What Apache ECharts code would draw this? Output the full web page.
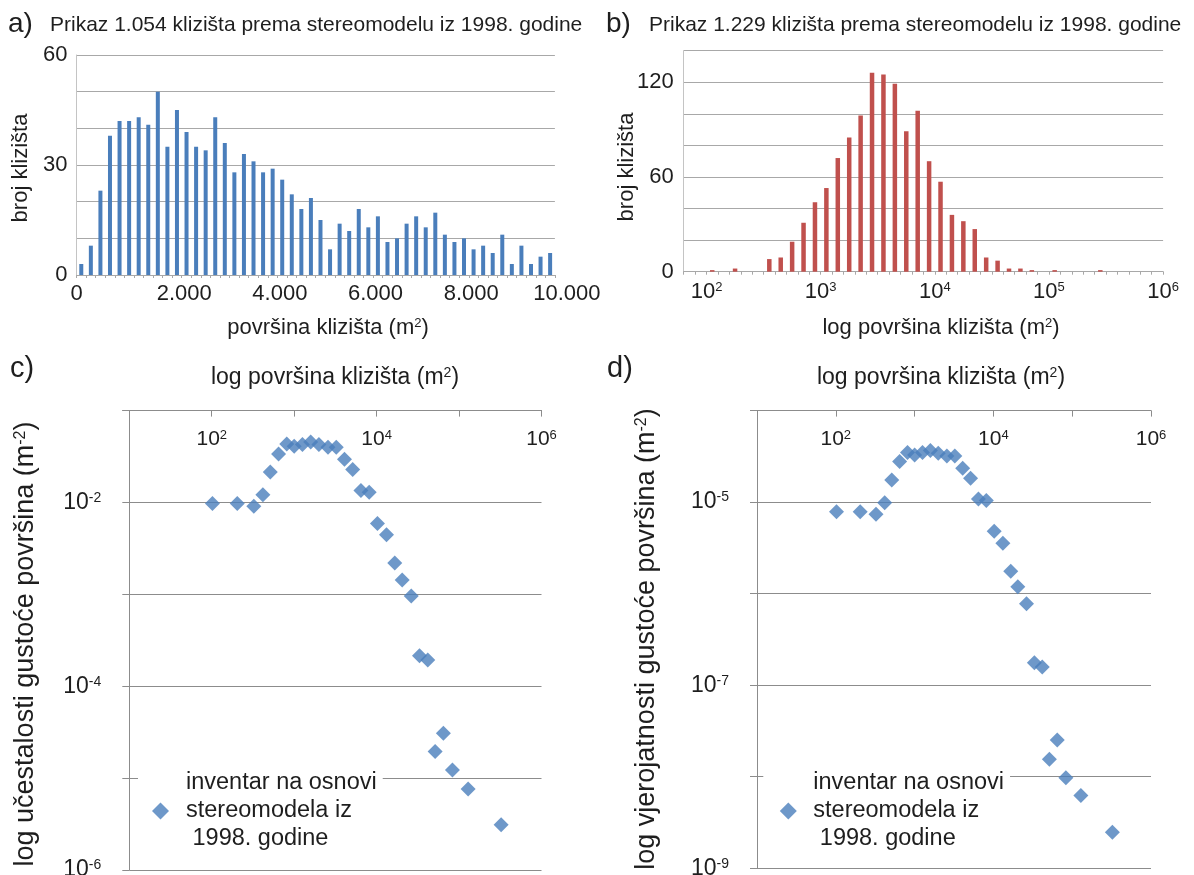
<!DOCTYPE html>
<html><head><meta charset="utf-8">
<script src="https://cdn.jsdelivr.net/npm/echarts@6/dist/echarts.min.js"></script>
<style>html,body{margin:0;padding:0;background:#fff}#chart{width:1194px;height:875px}</style>
</head><body><div id="chart"></div>
<script>
// ---------- Panel a: histogram of landslide area (linear bins of 200 m2) ----------
const binStartA = 0;
const binWidthA = 200;
const countsA = [3,8,23,38,42,42,43,41,50,35,45,39,35,34,43,36,28,33,31,28,29,26,22,18,21,15,7,14,12,18,13,16,9,10,14,16,13,17,11,9,10,7,8,6,11,3,8,3,5,6];
const xTicksA = [0,2000,4000,6000,8000,10000];
const yTicksA = [0,30,60];

// ---------- Panel b: histogram on log10(area), bins of 0.1 starting at 10^1.8 ----------
const logBinStartB = 1.8;
const logBinWidthB = 0.1;
const countsB = [0,0,1,0,2,0,0,8,9,19,31,44,53,72,85,99,126,125,119,89,102,70,57,36,32,27,9,7,2,2,1,0,1,0,0,0,1,0,0,0,0,0];
const yTicksB = [0,60,120];

// ---------- Panels c and d: density vs area ----------
const areaCD = [102,204,324,417,513,646,813,1000,1259,1585,1995,2570,3236,4074,5129,6457,8128,10233,13183,16596,20417,26303,33113,41687,51286,64565,83176,128825,323594];
const freqDensityC = [0.00975,0.00975,0.0091,0.01216,0.0214,0.0336,0.0434,0.0408,0.0427,0.0456,0.0427,0.0398,0.0398,0.0295,0.0229,0.0135,0.0129,0.00589,0.00445,0.00219,0.00143,0.000957,0.000215,0.000193,0.0000195,0.0000308,0.0000122,0.0000076,0.00000311];
const probDensityD = [7.87e-6,7.87e-6,7.35e-6,9.84e-6,1.75e-5,2.78e-5,3.48e-5,3.27e-5,3.48e-5,3.66e-5,3.42e-5,3.19e-5,3.19e-5,2.34e-5,1.82e-5,1.08e-5,1.04e-5,4.82e-6,3.56e-6,1.76e-6,1.19e-6,7.73e-7,1.76e-7,1.58e-7,1.55e-8,2.51e-8,9.75e-9,6.24e-9,2.47e-9];
const legendLines = ['inventar na osnovi','stereomodela iz',' 1998. godine'];

const titleA = 'Prikaz 1.054 klizišta prema stereomodelu iz 1998. godine';
const titleB = 'Prikaz 1.229 klizišta prema stereomodelu iz 1998. godine';

const FF = '"Liberation Sans", Arial, sans-serif';
const INK = '#1e1e1e';
const BLUE = '#4a7ebb';
const RED = '#c0504d';
const GRID_LIGHT = '#a8a8a8';
const GRID_DARK = '#8c8c8c';

function supRich(size) {
  return { s: { fontSize: size, fontFamily: FF, color: INK, verticalAlign: 'top' } };
}
function txt(x, y, text, size, align, rot, supSize) {
  return {
    type: 'text', x: x, y: y, rotation: rot || 0, silent: true,
    style: {
      text: text, fontSize: size, fontFamily: FF, fill: INK,
      align: align || 'center', verticalAlign: 'middle',
      rich: { s: { fontSize: supSize || Math.round(size * 0.6), fontFamily: FF, fill: INK, verticalAlign: 'top' } }
    }
  };
}
function expOf(v) { return Math.round(Math.log10(v)); }
function isInt(v) { return Math.abs(v - Math.round(v)) < 1e-6; }

const chart = echarts.init(document.getElementById('chart'), null, { renderer: 'canvas' });

function legendCfg(seriesName, left, padLeft, textPad) {
  return {
    data: [seriesName], left: left, top: 767, orient: 'vertical', icon: 'diamond',
    itemWidth: 17, itemHeight: 17, backgroundColor: '#fff', padding: [2, 6, 2, padLeft],
    selectedMode: false,
    formatter: function () { return legendLines.join('\n'); },
    textStyle: { fontSize: 23.5, lineHeight: 28, color: INK, fontFamily: FF, padding: [0, 0, 0, textPad] }
  };
}

const option = {
  animation: false,
  backgroundColor: '#fff',
  textStyle: { fontFamily: FF },
  grid: [
    { left: 76.5, top: 55, width: 478.4, height: 220, outerBoundsMode: 'none' },
    { left: 683.7, top: 50.7, width: 479.4, height: 221, outerBoundsMode: 'none' },
    { left: 129.3, top: 410.6, width: 412.2, height: 459.3, outerBoundsMode: 'none' },
    { left: 757, top: 410.6, width: 394, height: 457.6, outerBoundsMode: 'none' }
  ],
  xAxis: [
    {
      gridIndex: 0, type: 'value', min: xTicksA[0], max: xTicksA[xTicksA.length - 1], interval: xTicksA[1] - xTicksA[0],
      axisLine: { show: true, lineStyle: { color: GRID_LIGHT, width: 1 } },
      axisTick: { show: true, length: 3, lineStyle: { color: GRID_LIGHT } },
      minorTick: { show: true, splitNumber: 10, length: 3, lineStyle: { color: GRID_LIGHT } },
      splitLine: { show: false },
      axisLabel: {
        margin: 8, fontSize: 22, color: INK, fontFamily: FF, hideOverlap: false,
        formatter: function (v) {
          if (v === 0) return '0';
          return '{o|' + (v / 1000).toFixed(3) + '}';
        },
        rich: { o: { fontSize: 22, fontFamily: FF, color: INK, padding: [0, 0, 0, 24] } }
      }
    },
    {
      gridIndex: 1, type: 'value', min: logBinStartB, max: logBinStartB + logBinWidthB * countsB.length, interval: logBinWidthB,
      axisLine: { show: true, lineStyle: { color: GRID_LIGHT, width: 1 } },
      axisTick: { show: true, length: 3, lineStyle: { color: GRID_LIGHT } },
      splitLine: { show: false },
      axisLabel: {
        margin: 9, fontSize: 22, color: INK, fontFamily: FF, hideOverlap: false,
        formatter: function (v) { return isInt(v) ? '10{s|' + Math.round(v) + '}' : ''; },
        rich: supRich(13)
      }
    },
    {
      gridIndex: 2, type: 'log', logBase: 10, min: 10, max: 1e6, position: 'top',
      axisLine: { show: true, lineStyle: { color: GRID_DARK, width: 1 } },
      axisTick: { show: true, inside: true, length: 6, lineStyle: { color: GRID_DARK } },
      splitLine: { show: false },
      axisLabel: {
        inside: true, margin: 18, fontSize: 21, color: INK, fontFamily: FF, hideOverlap: false,
        formatter: function (v) { const e = expOf(v); return (e % 2 === 0) ? '10{s|' + e + '}' : ''; },
        rich: supRich(13)
      }
    },
    {
      gridIndex: 3, type: 'log', logBase: 10, min: 10, max: 1e6, position: 'top',
      axisLine: { show: true, lineStyle: { color: GRID_DARK, width: 1 } },
      axisTick: { show: true, inside: true, length: 6, lineStyle: { color: GRID_DARK } },
      splitLine: { show: false },
      axisLabel: {
        inside: true, margin: 18, fontSize: 21, color: INK, fontFamily: FF, hideOverlap: false,
        formatter: function (v) { const e = expOf(v); return (e % 2 === 0) ? '10{s|' + e + '}' : ''; },
        rich: supRich(13)
      }
    }
  ],
  yAxis: [
    {
      gridIndex: 0, type: 'value', min: 0, max: 60, interval: 10,
      axisLine: { show: true, lineStyle: { color: '#c4c4c4' } },
      axisTick: { show: false },
      splitLine: { show: true, lineStyle: { color: GRID_LIGHT, width: 1 } },
      axisLabel: { margin: 9, fontSize: 22, color: INK, fontFamily: FF,
        formatter: function (v) { return yTicksA.indexOf(v) >= 0 ? String(v) : ''; } }
    },
    {
      gridIndex: 1, type: 'value', min: 0, max: 140, interval: 20,
      axisLine: { show: true, lineStyle: { color: '#c4c4c4' } },
      axisTick: { show: false },
      splitLine: { show: true, lineStyle: { color: GRID_LIGHT, width: 1 } },
      axisLabel: { margin: 10, fontSize: 22, color: INK, fontFamily: FF,
        formatter: function (v) { return yTicksB.indexOf(v) >= 0 ? String(v) : ''; } }
    },
    {
      gridIndex: 2, type: 'log', logBase: 10, min: 1e-6, max: 1e-1,
      axisLine: { show: true, lineStyle: { color: GRID_DARK } },
      axisTick: { show: true, length: 7, lineStyle: { color: GRID_DARK } },
      splitLine: { show: true, lineStyle: { color: GRID_DARK, width: 1 } },
      axisLabel: {
        margin: 28, fontSize: 23, color: INK, fontFamily: FF,
        formatter: function (v) { const e = expOf(v); return (e % 2 === 0) ? '10{s|' + e + '}' : ''; },
        rich: supRich(14)
      }
    },
    {
      gridIndex: 3, type: 'log', logBase: 10, min: 1e-9, max: 1e-4,
      axisLine: { show: true, lineStyle: { color: GRID_DARK } },
      axisTick: { show: true, length: 7, lineStyle: { color: GRID_DARK } },
      splitLine: { show: true, lineStyle: { color: GRID_DARK, width: 1 } },
      axisLabel: {
        margin: 28, fontSize: 23, color: INK, fontFamily: FF,
        formatter: function (v) { const e = expOf(v); return (Math.abs(e % 2) === 1) ? '10{s|' + e + '}' : ''; },
        rich: supRich(14)
      }
    }
  ],
  legend: [
    legendCfg('c', 138, 14, 12),
    legendCfg('d', 763.3, 16.5, 11.5)
  ],
  series: [
    {
      type: 'bar', name: 'a', xAxisIndex: 0, yAxisIndex: 0, barWidth: 4,
      itemStyle: { color: BLUE },
      data: countsA.map(function (c, i) { return [binStartA + (i + 0.5) * binWidthA, c]; })
    },
    {
      type: 'bar', name: 'b', xAxisIndex: 1, yAxisIndex: 1, barWidth: 4.5,
      itemStyle: { color: RED },
      data: countsB.map(function (c, i) { return [logBinStartB + (i + 0.5) * logBinWidthB, c]; })
    },
    {
      type: 'scatter', name: 'c', xAxisIndex: 2, yAxisIndex: 2, symbol: 'diamond', symbolSize: 15,
      itemStyle: { color: BLUE },
      data: areaCD.map(function (a, i) { return [a, freqDensityC[i]]; })
    },
    {
      type: 'scatter', name: 'd', xAxisIndex: 3, yAxisIndex: 3, symbol: 'diamond', symbolSize: 15,
      itemStyle: { color: BLUE },
      data: areaCD.map(function (a, i) { return [a, probDensityD[i]]; })
    }
  ],
  graphic: [
    txt(8, 24, 'a)', 28, 'left'),
    txt(50, 25.5, titleA, 21, 'left'),
    txt(606, 24, 'b)', 28, 'left'),
    txt(649, 25.5, titleB, 21, 'left'),
    txt(328, 328, 'površina klizišta (m{s|2})', 22, 'center', 0, 13),
    txt(21, 168, 'broj klizišta', 22, 'center', Math.PI / 2),
    txt(941, 328, 'log površina klizišta (m{s|2})', 22, 'center', 0, 13),
    txt(626.5, 167, 'broj klizišta', 22, 'center', Math.PI / 2),
    txt(10, 369, 'c)', 29, 'left'),
    txt(335, 377.5, 'log površina klizišta (m{s|2})', 23, 'center', 0, 14),
    txt(26, 644, 'log učestalosti gustoće površina (m{s|-2})', 27, 'center', Math.PI / 2, 16),
    txt(607, 369, 'd)', 29, 'left'),
    txt(941, 377.5, 'log površina klizišta (m{s|2})', 23, 'center', 0, 14),
    txt(647, 639, 'log vjerojatnosti gustoće površina (m{s|-2})', 27, 'center', Math.PI / 2, 16)
  ]
};
chart.setOption(option);
</script>
</body></html>
